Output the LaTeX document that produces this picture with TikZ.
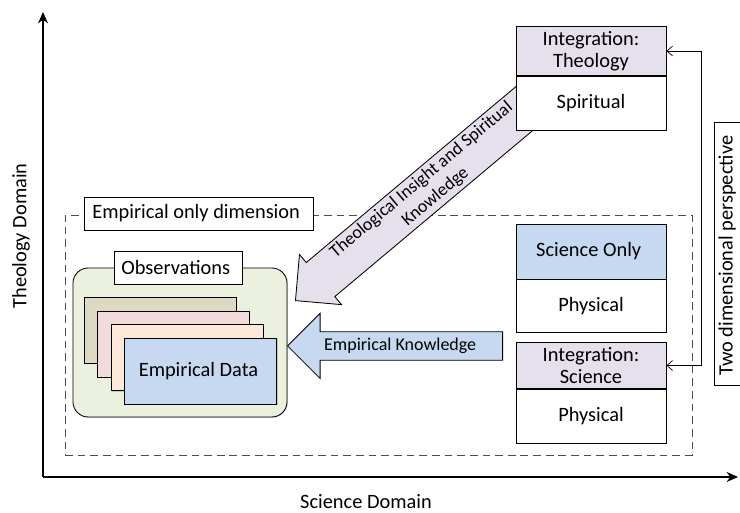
\documentclass[tikz,border=0pt]{standalone}
\usepackage{fontspec}
\setmainfont{Carlito}
\usetikzlibrary{positioning,shapes.arrows,arrows.meta,shadows}

\definecolor{purplehead}{HTML}{E5E0EC}
\definecolor{bluehead}{HTML}{C6D9F1}
\definecolor{greenbox}{HTML}{EBF1DE}
\definecolor{tancard}{HTML}{DDD9C3}
\definecolor{pinkcard}{HTML}{F2DCDB}
\definecolor{peachcard}{HTML}{FDE9D9}

\begin{document}
\begin{tikzpicture}[
    every node/.style={
        font=\fontsize{14.5}{15.5}\selectfont,
        align=center
    },
    axis/.style={
        line width=1.6pt,
        -{Stealth[length=8pt,width=7pt,inset=2.5pt]}
    },
    dimframe/.style={
        draw=black!70,
        dash pattern=on 5.5pt off 3.5pt,
        line width=0.6pt,
        minimum width=15.675cm,
        minimum height=6.0cm
    },
    labelbox/.style={
        draw,
        fill=white,
        line width=0.6pt,
        minimum height=0.825cm
    },
    observations/.style={
        draw,
        fill=greenbox,
        line width=0.6pt,
        rounded corners=0.38cm,
        minimum width=5.35cm,
        minimum height=3.725cm,
        drop shadow={shadow xshift=0.6pt,shadow yshift=-0.6pt,opacity=0.35}
    },
    datacard/.style={
        draw,
        line width=0.6pt,
        minimum width=3.8cm,
        minimum height=1.65cm,
        drop shadow={shadow xshift=0.6pt,shadow yshift=-0.6pt,opacity=0.35}
    },
    knowledge/.style={
        single arrow,
        draw,
        line width=0.6pt,
        single arrow head extend=0.2625cm,
        minimum width=1.625cm,
        inner sep=0pt,
        shape border rotate=180,
        anchor=tip,
        font=\fontsize{12.8}{15.5}\selectfont
    },
    domainhead/.style={
        draw,
        line width=0.6pt,
        minimum width=3.75cm
    },
    domainbody/.style={
        draw,
        fill=white,
        line width=0.6pt,
        minimum width=3.75cm,
        minimum height=1.35cm
    },
    perspective/.style={
        draw,
        fill=white,
        line width=0.6pt,
        rotate=90,
        anchor=north,
        minimum width=6.575cm,
        text height=10pt,
        text depth=20pt,
        inner ysep=3pt
    },
    link/.style={
        {Straight Barb[length=4pt,width=7pt]}-{Straight Barb[length=4pt,width=7pt]},
        line width=0.5pt
    }
]

\useasboundingbox (-1.075,-0.9) rectangle (17.425,11.925);

\coordinate (origin) at (0,0);
\coordinate (theologyend) at (0,11.625);
\coordinate (scienceend) at (17.375,0);

\draw[axis] (origin) -- (theologyend);
\draw[axis] (origin) -- (scienceend);

\node[rotate=90] (theologydomain) at (-0.55,6.025) {Theology Domain};
\node (sciencedomain) at (8.075,-0.625) {Science Domain};

\node[dimframe] (empiricalframe) at (8.3875,3.55) {};

\node[labelbox, minimum width=5.725cm] (empiricallabel) at (3.8875,6.5875) {
    Empirical only dimension
};

\node[observations] (observations) at (3.425,3.3625) {};

\node[labelbox, minimum width=3.2cm] (observationslabel) at (3.375,5.2375) {
    Observations
};

\node[datacard, fill=tancard] (card1) at (2.925,3.6625) {};
\node[datacard, fill=pinkcard] (card2) at (3.265,3.3225) {};
\node[datacard, fill=peachcard] (card3) at (3.605,2.9825) {};
\node[datacard, fill=bluehead] (empiricaldata) at (3.945,2.6425) {
    Empirical Data
};

\node[knowledge, fill=bluehead, minimum height=5.375cm] (empirical) at (6.1,3.275) {
    Empirical Knowledge
};

\node[knowledge, fill=purplehead, rotate=40, minimum height=8.25cm] (theological) at (6.3,4.4) {
    \begin{tabular}{@{}c@{}}
        Theological Insight and Spiritual\\
        Knowledge
    \end{tabular}
};

\node[domainhead, fill=purplehead, minimum height=1.15cm] (theologyhead) at (13.7,10.65) {
    Integration:\\
    Theology
};
\node[domainbody, below=0pt of theologyhead] (spiritual) {Spiritual};

\node[domainhead, fill=bluehead, minimum height=1.375cm] (sciencehead) at (13.7,5.6375) {
    Science Only
};
\node[domainbody, minimum height=1.325cm, below=0pt of sciencehead] (physical) {Physical};

\node[domainhead, fill=purplehead, minimum height=1.125cm] (integrationhead) at (13.7,2.7875) {
    Integration:\\
    Science
};
\node[domainbody, below=0pt of integrationhead] (integrationphysical) {Physical};

\draw[link]
    (theologyhead.east)
    -- ++(0.875,0)
    |- (integrationhead.east);

\node[perspective] (twodimensional) at (16.775,5.5875) {
    Two dimensional perspective
};

\end{tikzpicture}
\end{document}
